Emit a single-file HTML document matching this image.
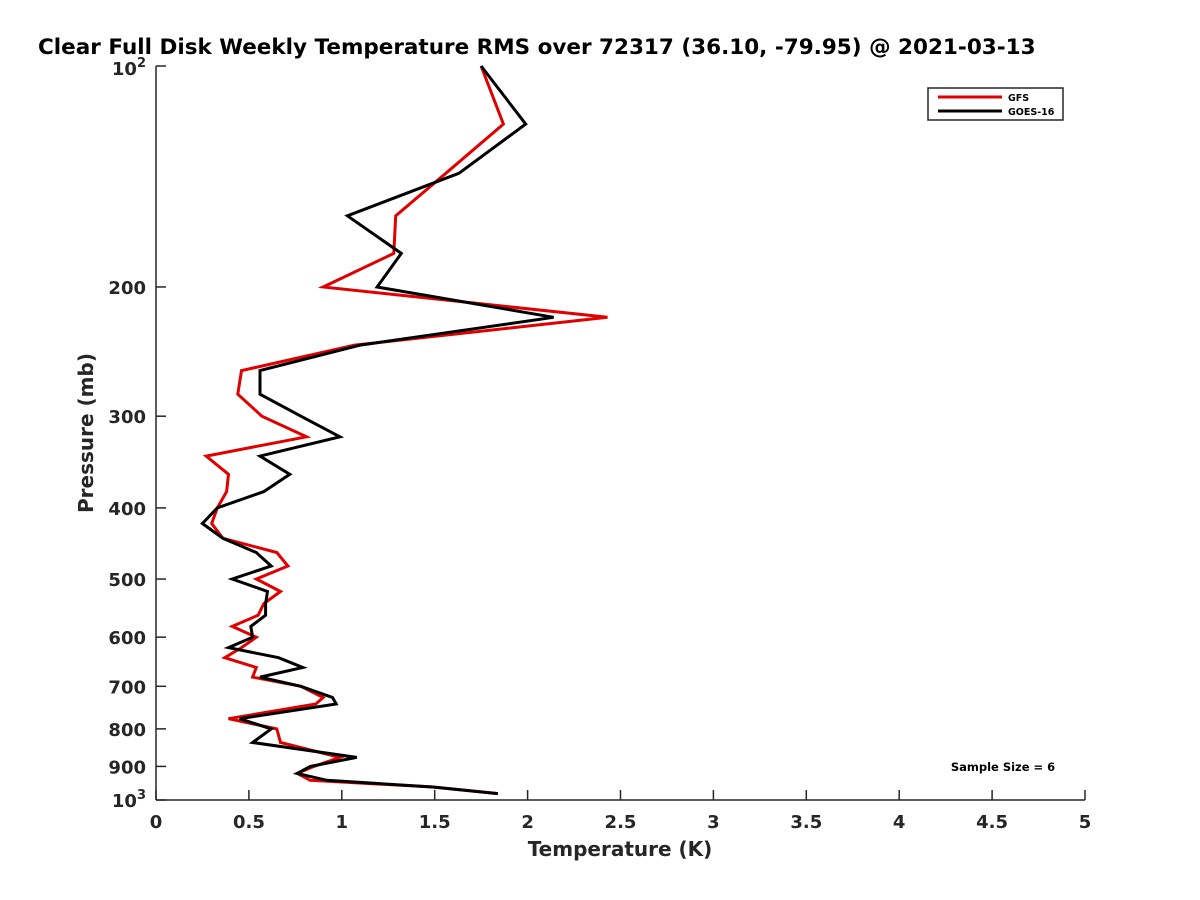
<!DOCTYPE html>
<html><head><meta charset="utf-8"><style>
html,body{margin:0;padding:0;background:#fff;}
svg{display:block;font-family:"DejaVu Sans","Liberation Sans",sans-serif;}
</style></head><body>
<svg id="chart" width="1200" height="900" viewBox="0 0 1200 900">
<rect width="1200" height="900" fill="#fff"/>
<text x="38" y="54" font-size="21.5" font-weight="bold" fill="#000">Clear Full Disk Weekly Temperature RMS over 72317 (36.10, -79.95) @ 2021-03-13</text>
<g id="axes"></g>
<g id="series"></g>
<text x="620" y="856" text-anchor="middle" font-size="20" font-weight="bold" fill="#262626">Temperature (K)</text>
<text transform="translate(93,433) rotate(-90)" text-anchor="middle" font-size="20" font-weight="bold" fill="#262626">Pressure (mb)</text>
<g>
<rect x="928" y="88" width="135" height="32" fill="#fff" stroke="#262626" stroke-width="1.5"/>
<line x1="938" y1="97" x2="1002" y2="97" stroke="#e00000" stroke-width="3"/>
<text x="1008" y="101" font-size="9.5" font-weight="bold" fill="#000">GFS</text>
<line x1="938" y1="111" x2="1002" y2="111" stroke="#000" stroke-width="3"/>
<text x="1008" y="115" font-size="9.5" font-weight="bold" fill="#000">GOES-16</text>
</g>
<text x="1003" y="771" text-anchor="middle" font-size="11.5" font-weight="bold" fill="#000">Sample Size = 6</text>
</svg>
<script>
const pressures = [100,120,140,160,180,200,220,240,260,280,300,320,340,360,380,400,420,440,460,480,500,520,540,560,580,600,620,640,660,680,700,725,740,775,800,835,875,900,920,940,960,980];
const gfsValues = [1.75,1.87,1.56,1.29,1.28,0.90,2.43,1.07,0.46,0.44,0.57,0.81,0.27,0.39,0.38,0.33,0.30,0.36,0.65,0.71,0.54,0.67,0.58,0.55,0.41,0.54,0.46,0.37,0.54,0.52,0.78,0.90,0.86,0.39,0.65,0.67,0.99,0.85,0.76,0.83,1.49,1.84];
const goesValues = [1.75,1.99,1.63,1.03,1.32,1.19,2.14,1.10,0.56,0.56,0.78,0.99,0.56,0.72,0.58,0.33,0.25,0.36,0.54,0.62,0.41,0.60,0.59,0.59,0.51,0.52,0.39,0.66,0.79,0.56,0.78,0.95,0.97,0.45,0.62,0.52,1.08,0.83,0.76,0.92,1.49,1.84];
const xTicks = [0,0.5,1,1.5,2,2.5,3,3.5,4,4.5,5];
const xTickLabels = ["0","0.5","1","1.5","2","2.5","3","3.5","4","4.5","5"];
const yTicks = [200,300,400,500,600,700,800,900];

const NS = "http://www.w3.org/2000/svg";
const X0 = 156, X1 = 1085, Y0 = 66, Y1 = 800;
function xs(t){ return X0 + (t - 0) / 5 * (X1 - X0); }
function ys(p){ return Y0 + (Math.log10(p) - 2) * (Y1 - Y0); }
function mk(tag, attrs, parent){ const e = document.createElementNS(NS, tag); for (const k in attrs) e.setAttribute(k, attrs[k]); parent.appendChild(e); return e; }

const axes = document.getElementById("axes");
let a = mk("line", {x1:X0, y1:Y0, x2:X0, y2:Y1, stroke:"#262626", "stroke-width":1.5}, axes);


a = mk("line", {x1:X0, y1:Y1, x2:X1, y2:Y1, stroke:"#262626", "stroke-width":1.5}, axes);



xTicks.forEach((t, i) => {
  const tk = mk("line", {x1:xs(t), y1:Y1, x2:xs(t), y2:Y1-10, stroke:"#262626", "stroke-width":1.5}, axes);
  
  
  const lb = mk("text", {x:xs(t), y:Y1+28, "text-anchor":"middle", "font-size":18, "font-weight":"bold", fill:"#262626"}, axes);
  lb.textContent = xTickLabels[i];
  
  
});
[100].concat(yTicks, [1000]).forEach(p => {
  const tk = mk("line", {x1:X0, y1:ys(p), x2:X0+10, y2:ys(p), stroke:"#262626", "stroke-width":1.5}, axes);
  
  
});
yTicks.forEach(p => {
  const lb = mk("text", {x:X0-10, y:ys(p)+7, "text-anchor":"end", "font-size":18, "font-weight":"bold", fill:"#262626"}, axes);
  lb.textContent = String(p);
  
  
});
[[100,"2"],[1000,"3"]].forEach(([p, e]) => {
  const lb = mk("text", {x:X0-10, y:ys(p)+(p===100?9:7), "text-anchor":"end", "font-size":18, "font-weight":"bold", fill:"#262626"}, axes);
  lb.textContent = "10";
  const sup = mk("tspan", {dy:-8, "font-size":13}, lb);
  sup.textContent = e;
  
  
});

const sg = document.getElementById("series");
function drawSeries(vals, color, name){
  const pts = vals.map((v, i) => xs(v).toFixed(1) + "," + ys(pressures[i]).toFixed(1)).join(" ");
  const pl = mk("polyline", {points:pts, fill:"none", stroke:color, "stroke-width":3, "stroke-linejoin":"miter"}, sg);
  
  
}
drawSeries(gfsValues, "#e00000", "gfs-line");
drawSeries(goesValues, "#000000", "goes16-line");
</script>
</body></html>
